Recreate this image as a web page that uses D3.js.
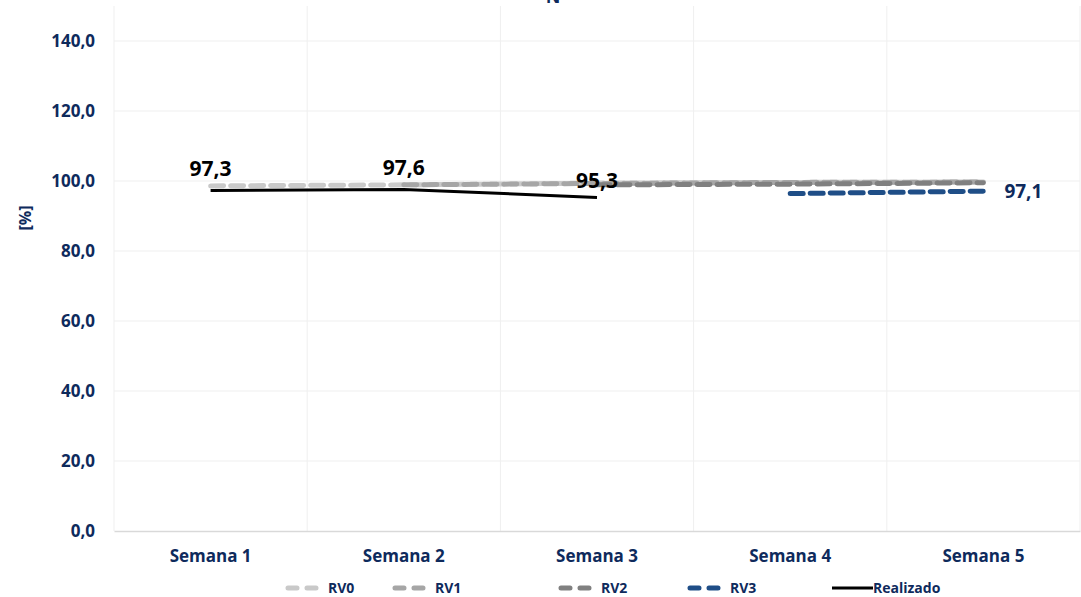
<!DOCTYPE html>
<html><head><meta charset="utf-8">
<script src="https://cdn.jsdelivr.net/npm/d3@7"></script>
<style>body{margin:0;background:#fff;} svg{display:block;}</style>
</head><body>
<svg id="c" width="1081" height="597"></svg>
<script>
const categories = ["Semana 1","Semana 2","Semana 3","Semana 4","Semana 5"];
const rv0 = [98.6, 98.9, 99.4, 99.6, 99.7];
const rv1 = [null, 98.9, 99.3, 99.6, 99.7];
const rv2 = [null, null, 98.9, 99.1, 99.5];
const rv3 = [null, null, null, 96.4, 97.1];
const realizado = [97.3, 97.6, 95.3, null, null];
const yTicks = [0,20,40,60,80,100,120,140];
const seriesNames = ["RV0","RV1","RV2","RV3","Realizado"];
const titleText = "N";

const navy = "#0e2a5c";
const FONT = "'Open Sans', sans-serif";
const svg = d3.select("#c");
const x = d3.scaleBand().domain(categories).range([114,1080]);
const y = d3.scaleLinear().domain([0,150]).range([531,6]);
const fmt = v => d3.format(".1f")(v).replace(".", ",");

// gridlines
svg.append("g").selectAll("line").data(yTicks.filter(d=>d>0)).join("line")
  .attr("x1",114).attr("x2",1080).attr("y1",d=>y(d)).attr("y2",d=>y(d))
  .attr("stroke","#efefef").attr("stroke-width",1);
const bounds = categories.map(c=>x(c)).concat([x.range()[1]]);
svg.append("g").selectAll("line").data(bounds).join("line")
  .attr("x1",d=>d).attr("x2",d=>d).attr("y1",y(150)).attr("y2",y(0))
  .attr("stroke","#efefef").attr("stroke-width",1);

// axes
const yAxis = svg.append("g").attr("transform","translate(114,0)")
  .call(d3.axisLeft(y).tickValues(yTicks).tickFormat(fmt).tickSize(0).tickPadding(19));
yAxis.select(".domain").remove();
yAxis.selectAll("text").attr("fill",navy).style("font-family",FONT)
  .style("font-weight","bold").style("font-size","17px");

const xAxis = svg.append("g").attr("transform","translate(0,531)")
  .call(d3.axisBottom(x).tickSize(0).tickPadding(19));
xAxis.select(".domain").attr("stroke","#d9d9d9").attr("stroke-width",1.5);
xAxis.selectAll("text").attr("fill",navy).style("font-family",FONT)
  .style("font-weight","bold").style("font-size","17px");

// y title
svg.append("text").attr("transform","translate(25,218) rotate(-90)").attr("text-anchor","middle")
  .attr("dy","0.35em")
  .attr("fill",navy).style("font-family",FONT).style("font-weight","bold")
  .style("font-size","16px").text("[%]");

// title (clipped at top as in the reference)
svg.append("text").attr("x",553).attr("y",3).attr("text-anchor","middle")
  .attr("fill",navy).style("font-family",FONT).style("font-weight","bold")
  .style("font-size","18px").text(titleText);

const cx = c => x(c) + x.bandwidth()/2;
const line = d3.line().defined(d=>d.v!=null).x(d=>cx(d.c)).y(d=>y(d.v));
const series = [
  {name:"RV0", vals:rv0, color:"#c9c9c9", dash:"13,7", w:5},
  {name:"RV1", vals:rv1, color:"#a6a6a6", dash:"13,7", w:5},
  {name:"RV2", vals:rv2, color:"#808080", dash:"13,7", w:5},
  {name:"RV3", vals:rv3, color:"#1f4e87", dash:"13,7", w:5},
  {name:"Realizado", vals:realizado, color:"#000000", dash:null, w:3}
];
series.forEach(s=>{
  const data = categories.map((c,i)=>({c, v:s.vals[i]}));
  svg.append("path").datum(data).attr("d",line).attr("fill","none")
    .attr("stroke",s.color).attr("stroke-width",s.w)
    .attr("stroke-dasharray",s.dash).attr("stroke-linecap", s.dash ? "round":"butt");
});

// data labels
categories.forEach((c,i)=>{
  if (realizado[i]!=null) {
    svg.append("text").attr("x",cx(c)).attr("y",y(realizado[i]) - (i==2?9:14)).attr("text-anchor","middle")
      .attr("fill","#000").style("font-family",FONT).style("font-weight","bold")
      .style("font-size","21px").text(fmt(realizado[i]));
  }
});
const lastI = 4;
svg.append("text").attr("x",cx(categories[lastI])+21).attr("y",y(rv3[lastI])+7)
  .attr("fill",navy).style("font-family",FONT).style("font-weight","bold")
  .style("font-size","19px").text(fmt(rv3[lastI]));

// legend
const legX = [285, 392, 558, 687, 832];
const lg = svg.append("g");
series.forEach((s,i)=>{
  const g = lg.append("g");
  if (s.dash) {
    g.append("line").attr("x1",legX[i]+3).attr("x2",legX[i]+33).attr("y1",588).attr("y2",588)
      .attr("stroke",s.color).attr("stroke-width",5).attr("stroke-dasharray","9,10").attr("stroke-linecap","round");
    g.append("text").attr("x",legX[i]+43).attr("y",593).attr("fill",navy)
      .style("font-family",FONT).style("font-weight","bold").style("font-size","14px").text(s.name);
  } else {
    g.append("line").attr("x1",legX[i]).attr("x2",legX[i]+41).attr("y1",588).attr("y2",588)
      .attr("stroke",s.color).attr("stroke-width",3);
    g.append("text").attr("x",legX[i]+41).attr("y",593).attr("fill",navy)
      .style("font-family",FONT).style("font-weight","bold").style("font-size","14px").text(s.name);
  }
});
</script>
</body></html>
